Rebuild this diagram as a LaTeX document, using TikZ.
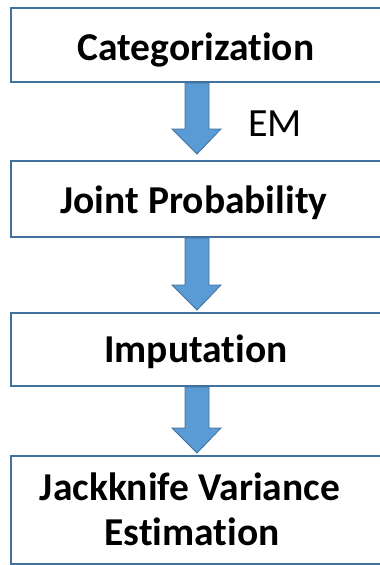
\documentclass[tikz,border=0pt]{standalone}
\usepackage{fontspec}
\setmainfont{Carlito}[Ligatures=NoCommon]
\usetikzlibrary{calc}
\definecolor{edgeblue}{HTML}{41719C}
\definecolor{fillblue}{HTML}{5B9BD5}
\tikzset{
  stagebox/.style={draw=edgeblue, line width=2pt, fill=white, inner sep=0pt,
    minimum width=376pt, anchor=north west},
  stagelabel/.style={anchor=base, font=\fontsize{39.5}{45}\selectfont\bfseries, inner sep=0pt},
  fatarrow/.style={draw=edgeblue, line width=0.8pt, fill=fillblue, line join=miter},
}
% draws a block arrow from the bottom of #1 down to a tip #2 above the top of #3
\newcommand{\blockarrow}[3]{%
  \draw[fatarrow] let \p1=(#1.south), \p2=(#3.north) in
    (185pt,\y1) -- (209pt,\y1) -- (209pt,\y2+#2+25pt) -- (221pt,\y2+#2+25pt)
    -- (197pt,\y2+#2) -- (172pt,\y2+#2+25pt) -- (185pt,\y2+#2+25pt) -- cycle;}
\begin{document}
\begin{tikzpicture}[x=1pt,y=-1pt]
  \useasboundingbox (0,0) rectangle (380,565);
  % stage boxes
  \node[stagebox, minimum height=74pt]  (b1) at (10,7)   {};
  \node[stagebox, minimum height=76pt]  (b2) at (10,160) {};
  \node[stagebox, minimum height=73pt]  (b3) at (10,312) {};
  \node[stagebox, minimum height=108pt] (b4) at (10,455) {};
  % stage labels
  \node[stagelabel] (t1) at (196,60)  {Categorization};
  \node[stagelabel] (t2) at (194,213) {Joint Probability};
  \node[stagelabel] (t3) at (196,362) {Imputation};
  \node[stagelabel] (t4a) at (190,500) {Jackknife Variance};
  \node[stagelabel] (t4b) at (192,545) {Estimation};
  % block arrows between stages
  \blockarrow{b1}{6pt}{b2}
  \blockarrow{b2}{2pt}{b3}
  \blockarrow{b3}{2pt}{b4}
  \node[anchor=base, font=\fontsize{40}{45}\selectfont, inner sep=0pt] (em) at (275,136) {EM};
\end{tikzpicture}
\end{document}
